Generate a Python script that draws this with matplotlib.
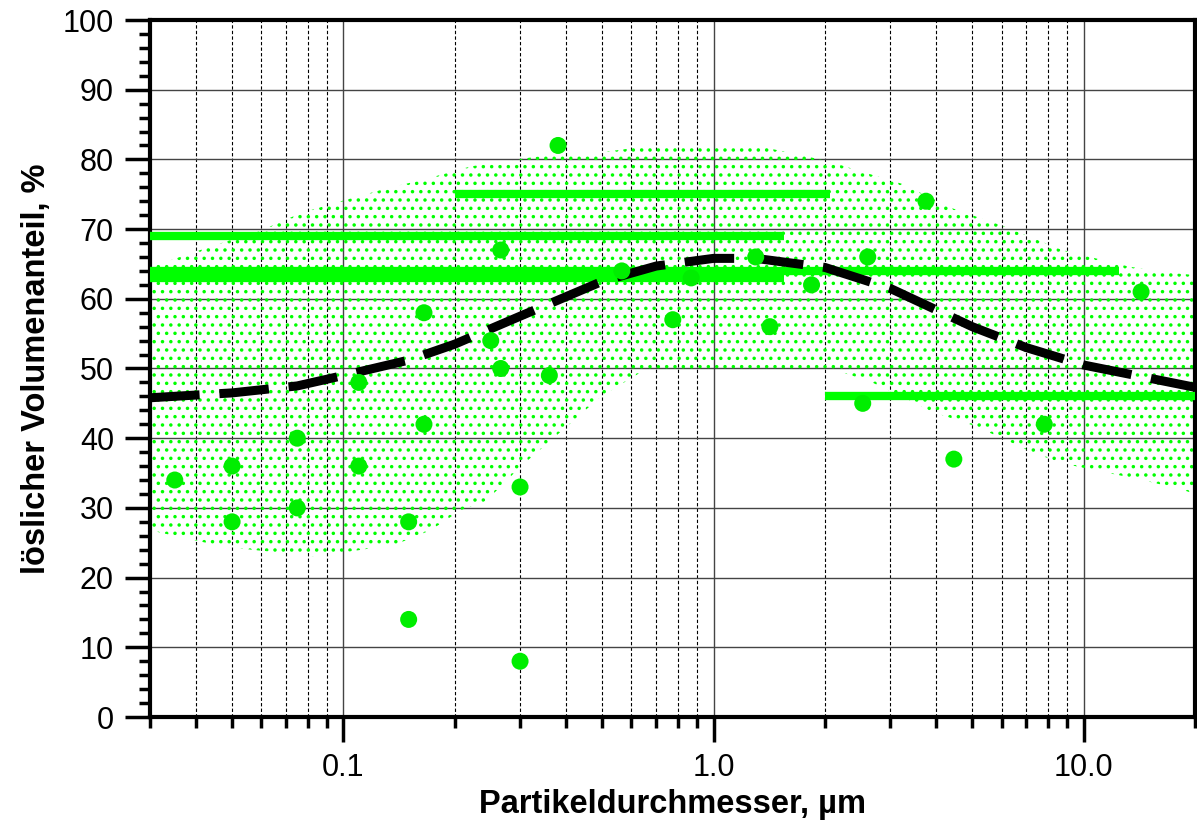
import matplotlib
matplotlib.use("Agg")
import matplotlib.pyplot as plt
from matplotlib.ticker import LogLocator, FixedLocator, MultipleLocator, NullFormatter

plt.rcParams['font.family'] = ['Liberation Sans', 'DejaVu Sans']
plt.rcParams['hatch.linewidth'] = 1.3

# measured points
pts_x = [0.035, 0.05, 0.05, 0.075, 0.075, 0.11, 0.11, 0.15, 0.15, 0.165, 0.165,
         0.25, 0.266, 0.266, 0.30, 0.30, 0.38, 0.36, 0.565, 0.776, 0.87,
         1.30, 1.42, 1.84, 2.53, 2.61, 3.75, 4.46, 7.83, 14.3]
pts_y = [34, 36, 28, 40, 30, 36, 48, 28, 14, 58, 42,
         54, 67, 50, 33, 8, 82, 49, 64, 57, 63,
         66, 56, 62, 45, 66, 74, 37, 42, 61]

# horizontal range bars: (y, x_start, x_end)
bar_y = [69, 75, 64, 63, 46]
bar_x0 = [0.03, 0.2, 0.03, 0.03, 2.0]
bar_x1 = [1.55, 2.07, 12.5, 1.55, 20.0]

# trend curve
trend_x = [0.03, 0.05, 0.075, 0.1, 0.15, 0.2, 0.3, 0.5, 0.7, 1.0, 1.3, 2.0, 3.0, 5.0, 7.0, 10.0, 20.0]
trend_y = [45.8, 46.5, 47.5, 49, 51.2, 53.5, 57.5, 62.5, 64.7, 65.8, 65.8, 64.5, 61.5, 56, 53, 50.5, 47.3]

# scatter band
band_up_x = [0.03, 0.0348, 0.0438, 0.061, 0.0767, 0.0985, 0.134, 0.162, 0.221, 0.343, 0.497, 0.64,
             1.35, 1.73, 2.08, 2.68, 3.23, 4.41, 6.02, 8.74, 13.3, 17.4, 20.0]
band_up_y = [64.5, 65.7, 67.5, 70, 72.3, 74, 76, 77, 79, 80.5, 81, 81.8,
             81.8, 80.6, 79.6, 77.8, 76.5, 73, 70.5, 67, 64.6, 63.7, 63.4]
band_lo_x = [0.03, 0.0362, 0.0452, 0.0563, 0.0767, 0.084, 0.112, 0.139, 0.172, 0.208, 0.243, 0.302,
             0.388, 0.497, 0.638, 0.928, 2.08, 2.68, 3.23, 3.89, 4.99, 6.02, 7.25, 8.74, 11.2, 14.4, 18.5, 20.0]
band_lo_y = [26.8, 25.8, 24.7, 24, 23.3, 23, 24, 24.8, 26.8, 29.7, 31, 36,
             41, 46, 49.5, 50, 50, 48, 46, 43.8, 41.9, 40, 38, 36.4, 35.2, 34, 32.6, 32]

green = '#00ff00'

fig = plt.figure(figsize=(11.97, 8.30), dpi=100)
ax = fig.add_axes([150/1197, 113/830, 1045/1197, 697/830])

# band polygon (upper then lower reversed)
poly_x = band_up_x + band_lo_x[::-1]
poly_y = band_up_y + band_lo_y[::-1]
ax.fill(poly_x, poly_y, facecolor='none', edgecolor=green, hatch='..', linewidth=0, zorder=1)

for y, a, b in zip(bar_y, bar_x0, bar_x1):
    ax.plot([a, b], [y, y], color=green, lw=6, solid_capstyle='butt', zorder=3)

ax.plot(trend_x, trend_y, color='black', lw=6.5, dashes=(5.5, 2.2), zorder=4)
ax.scatter(pts_x, pts_y, s=150, color='#00ee00', edgecolors='none', zorder=5)

ax.set_xscale('log')
ax.set_xlim(0.03, 20)
ax.set_ylim(0, 100)

ax.xaxis.set_major_locator(FixedLocator([0.1, 1.0, 10.0]))
ax.set_xticklabels(['0.1', '1.0', '10.0'])
ax.xaxis.set_minor_locator(LogLocator(base=10, subs=range(2, 10), numticks=20))
ax.xaxis.set_minor_formatter(NullFormatter())
ax.yaxis.set_major_locator(MultipleLocator(10))
ax.yaxis.set_minor_locator(MultipleLocator(2))

ax.grid(True, which='major', color='#444444', lw=1.0, zorder=0)
ax.grid(True, which='minor', axis='x', color='black', lw=0.8, ls=(0, (3, 2)), zorder=0)
ax.set_axisbelow(True)

ax.tick_params(which='major', direction='out', length=18, width=2.5, labelsize=22, pad=8)
ax.tick_params(which='minor', direction='out', length=8, width=2.5)
for s in ax.spines.values():
    s.set_linewidth(3)

ax.set_xlabel('Partikeldurchmesser, µm', fontsize=23.5, fontweight='bold', labelpad=4)
ax.set_ylabel('löslicher Volumenanteil, %', fontsize=23.5, fontweight='bold', labelpad=8)

fig.savefig('out.png', dpi=100)
